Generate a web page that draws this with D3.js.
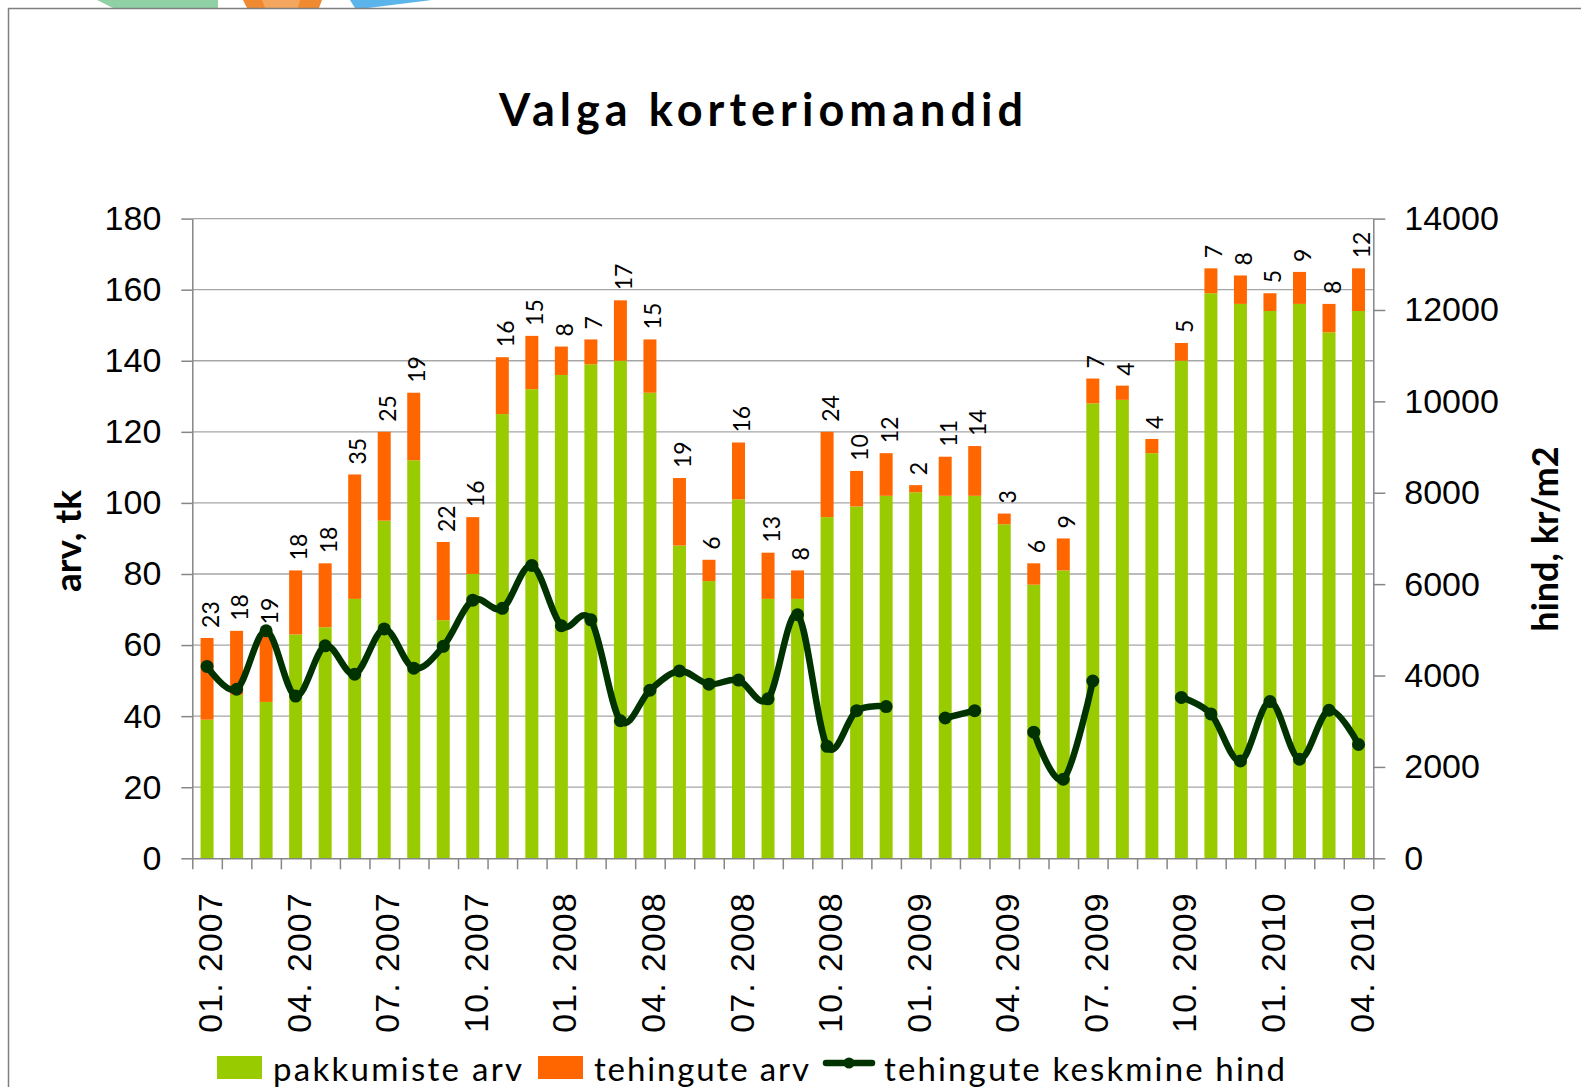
<!DOCTYPE html>
<html>
<head>
<meta charset="utf-8">
<script src="https://cdn.jsdelivr.net/npm/d3@7"></script>
<style>
  body { margin: 0; background: #fff; }
  svg { display: block; }
</style>
</head>
<body>
<svg id="chart"></svg>
<script>
const months = ['01. 2007','02. 2007','03. 2007','04. 2007','05. 2007','06. 2007','07. 2007','08. 2007','09. 2007','10. 2007','11. 2007','12. 2007',
                '01. 2008','02. 2008','03. 2008','04. 2008','05. 2008','06. 2008','07. 2008','08. 2008','09. 2008','10. 2008','11. 2008','12. 2008',
                '01. 2009','02. 2009','03. 2009','04. 2009','05. 2009','06. 2009','07. 2009','08. 2009','09. 2009','10. 2009','11. 2009','12. 2009',
                '01. 2010','02. 2010','03. 2010','04. 2010']
// pakkumiste arv (green part)
const offers = [39,46,44,63,65,73,95,112,67,80,125,132,136,139,140,131,88,78,101,73,73,96,99,102,103,102,102,94,77,81,128,129,114,140,159,156,154,156,148,154]
// tehingute arv (orange part, also the labels)
const deals = [23,18,19,18,18,35,25,19,22,16,16,15,8,7,17,15,19,6,16,13,8,24,10,12,2,11,14,3,6,9,7,4,4,5,7,8,5,9,8,12]
// tehingute keskmine hind, kr/m2 (null = no value)
const price = [4200,3700,4980,3550,4650,4030,5020,4160,4640,5650,5470,6410,5090,5220,3010,3680,4100,3810,3900,3490,5330,2450,3230,3320,null,3070,3230,null,2760,1730,3880,null,null,3520,3160,2130,3430,2170,3240,2490]
const leftTicks = [0,20,40,60,80,100,120,140,160,180]
const rightTicks = [0,2000,4000,6000,8000,10000,12000,14000]
const labelEvery = 3

const width = 1581
const height = 1087
const plot = {left: 192.3, right: 1373.3, top: 218.6, bottom: 858.3}

const svg = d3.select('#chart').attr('width', width).attr('height', height)

// cut off logo at the very top
svg.append('path').attr('d', 'M97,0 L218,0 L218,8 L113,8 Z').attr('fill', '#8fd0a5')
svg.append('path').attr('d', 'M243,0 L322,0 L319,8 L247,8 Z').attr('fill', '#f08a30')
svg.append('path').attr('d', 'M262,0 L300,0 L298,8 L265,8 Z').attr('fill', '#f4a55e')
svg.append('path').attr('d', 'M350,0 L432,0 L368,8 L355,8 Z').attr('fill', '#5bb5ea')

// chart area border
svg.append('path')
    .attr('d', `M8.5,${height} L8.5,8.5 L${width},8.5`)
    .attr('fill', 'none')
    .attr('stroke', '#7f7f7f')
    .attr('stroke-width', 1.5)

const xCat = d3.scaleBand().domain(months).range([plot.left, plot.right])
const xEdge = d3.scaleLinear().domain([0, months.length]).range([plot.left, plot.right])
const yL = d3.scaleLinear().domain([0, 180]).range([plot.bottom, plot.top])
const yR = d3.scaleLinear().domain([0, 14000]).range([plot.bottom, plot.top])
const barW = xCat.bandwidth() * 0.44
const cx = d => xCat(d) + xCat.bandwidth() / 2

// gridlines
svg.append('g').selectAll('line').data(leftTicks.slice(1))
    .enter().append('line')
        .attr('x1', plot.left).attr('x2', plot.right)
        .attr('y1', d => yL(d)).attr('y2', d => yL(d))
        .attr('stroke', '#a6a6a6')
        .attr('stroke-width', 1.3)

const rows = months.map((m, i) => ({m, offer: offers[i], deal: deals[i], price: price[i]}))

// bars
const bars = svg.append('g')
bars.selectAll('rect.offer').data(rows)
    .enter().append('rect')
        .attr('class', 'offer')
        .attr('fill', '#99cc00')
        .attr('x', d => cx(d.m) - barW / 2)
        .attr('width', barW)
        .attr('y', d => yL(d.offer))
        .attr('height', d => yL(0) - yL(d.offer))
bars.selectAll('rect.deal').data(rows)
    .enter().append('rect')
        .attr('class', 'deal')
        .attr('fill', '#ff6600')
        .attr('x', d => cx(d.m) - barW / 2)
        .attr('width', barW)
        .attr('y', d => yL(d.offer + d.deal))
        .attr('height', d => yL(d.offer) - yL(d.offer + d.deal))

// axes
const axisStyle = g => {
    g.selectAll('.domain, .tick line').attr('stroke', '#868686').attr('stroke-width', 1.5)
    g.selectAll('text').attr('fill', '#000').style('font-family', '"Liberation Sans", Arial, sans-serif')
        .style('font-size', '34px')
}
svg.append('g')
    .attr('transform', `translate(${plot.left},0)`)
    .call(d3.axisLeft(yL).tickValues(leftTicks).tickSize(11).tickSizeOuter(0).tickPadding(20))
    .call(axisStyle)
svg.append('g')
    .attr('transform', `translate(${plot.right},0)`)
    .call(d3.axisRight(yR).tickValues(rightTicks).tickFormat(d3.format('d')).tickSize(12).tickSizeOuter(0).tickPadding(19))
    .call(axisStyle)
svg.append('g')
    .attr('transform', `translate(0,${plot.bottom})`)
    .call(d3.axisBottom(xEdge).ticks(months.length).tickSize(11).tickSizeOuter(0).tickFormat(''))
    .call(axisStyle)

// month labels
svg.append('g').selectAll('text').data(months.filter((m, i) => i % labelEvery === 0))
    .enter().append('text')
        .attr('transform', d => `translate(${cx(d) + 15},${plot.bottom + 34}) rotate(-90)`)
        .attr('text-anchor', 'end')
        .style('font-family', '"Liberation Sans", Arial, sans-serif')
        .style('font-size', '34px')
        .style('letter-spacing', '1px')
        .text(d => d)

// price line
const line = d3.line()
    .defined(d => d.price !== null)
    .x(d => cx(d.m))
    .y(d => yR(d.price))
    .curve(d3.curveCardinal.tension(0))
svg.append('path')
    .datum(rows)
    .attr('d', line)
    .attr('fill', 'none')
    .attr('stroke', '#003300')
    .attr('stroke-width', 6.5)
    .attr('stroke-linejoin', 'round')
    .attr('stroke-linecap', 'round')
svg.append('g').selectAll('circle').data(rows.filter(d => d.price !== null))
    .enter().append('circle')
        .attr('cx', d => cx(d.m))
        .attr('cy', d => yR(d.price))
        .attr('r', 6.5)
        .attr('fill', '#003300')

// deal labels above bars
svg.append('g').selectAll('text').data(rows)
    .enter().append('text')
        .attr('transform', d => `translate(${cx(d.m) + 11.5},${yL(d.offer + d.deal) - 10}) rotate(-90)`)
        .style('font-family', 'Lato, sans-serif')
        .style('font-size', '23px')
        .text(d => d.deal)

// title
svg.append('text')
    .attr('x', 761).attr('y', 126)
    .attr('text-anchor', 'middle')
    .attr('textLength', 524).attr('lengthAdjust', 'spacing')
    .style('font-family', 'Lato, sans-serif')
    .style('font-weight', 'bold')
    .style('font-size', '45px')
    .text('Valga korteriomandid')

// axis titles
svg.append('text')
    .attr('transform', 'translate(81,541) rotate(-90)')
    .attr('text-anchor', 'middle')
    .style('font-family', 'Lato, sans-serif')
    .style('font-weight', 'bold')
    .style('font-size', '37px')
    .text('arv, tk')
svg.append('text')
    .attr('transform', 'translate(1558,539) rotate(-90)')
    .attr('text-anchor', 'middle')
    .style('font-family', 'Lato, sans-serif')
    .style('font-weight', 'bold')
    .style('font-size', '36px')
    .text('hind, kr/m2')

// legend
const legend = svg.append('g').style('font-family', 'Lato, sans-serif').style('font-size', '33px')
legend.append('rect').attr('x', 217).attr('y', 1056).attr('width', 45).attr('height', 23).attr('fill', '#99cc00')
legend.append('text').attr('x', 273).attr('y', 1081).attr('textLength', 249).attr('lengthAdjust', 'spacing').text('pakkumiste arv')
legend.append('rect').attr('x', 538).attr('y', 1056).attr('width', 45).attr('height', 23).attr('fill', '#ff6600')
legend.append('text').attr('x', 594).attr('y', 1081).attr('textLength', 215).attr('lengthAdjust', 'spacing').text('tehingute arv')
legend.append('line').attr('x1', 826).attr('x2', 872).attr('y1', 1063).attr('y2', 1063)
    .attr('stroke', '#003300').attr('stroke-width', 6.5).attr('stroke-linecap', 'round')
legend.append('circle').attr('cx', 849).attr('cy', 1063).attr('r', 5.5).attr('fill', '#003300')
legend.append('text').attr('x', 884).attr('y', 1081).attr('textLength', 401).attr('lengthAdjust', 'spacing').text('tehingute keskmine hind')
</script>
</body>
</html>
